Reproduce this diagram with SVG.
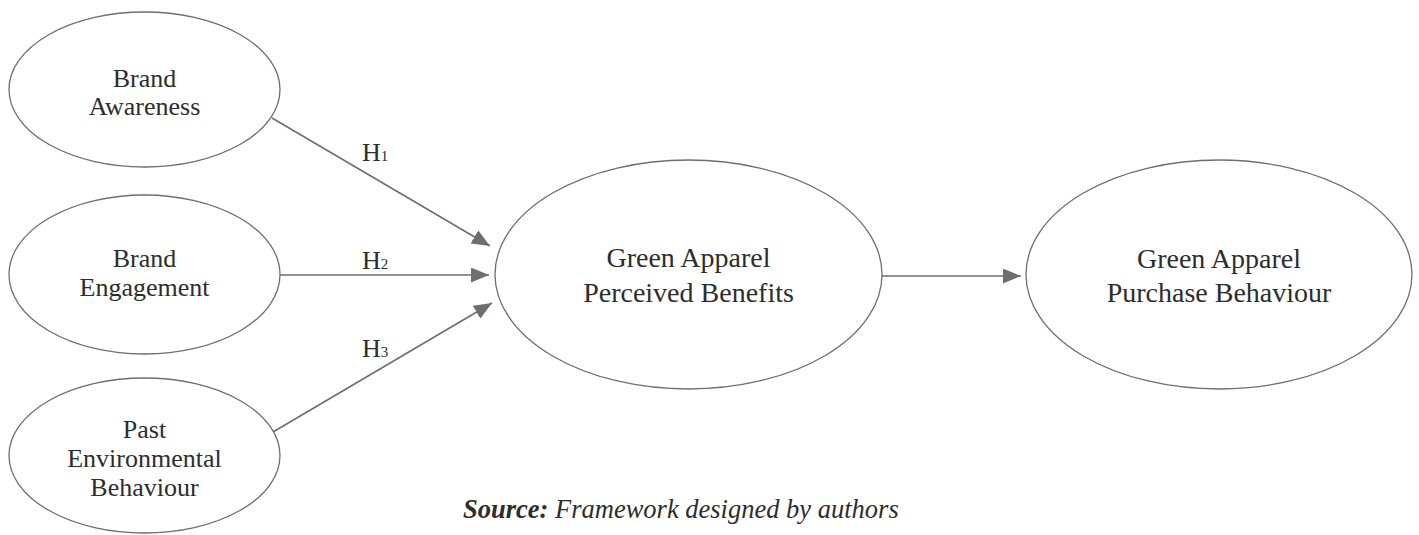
<svg xmlns="http://www.w3.org/2000/svg" width="1419" height="535" viewBox="0 0 1419 535">
<defs>
<style>
.node ellipse{fill:#fff;stroke:#6d6e71;stroke-width:1.3}
.lbl{font-family:"Liberation Serif","Times New Roman",serif;fill:#2d2d2d;text-anchor:middle}
.sm{font-size:26px}
.lg{font-size:28px}
.conn line{stroke:#6d6e71;stroke-width:1.6;fill:none}
.h{font-family:"Liberation Serif","Times New Roman",serif;fill:#2d2d2d;font-size:26px}
.sub{font-size:15px}
.src{font-family:"Liberation Serif","Times New Roman",serif;fill:#2d2d2d;font-size:26.5px;font-style:italic}
</style>
<marker id="arr" viewBox="0 0 18 15" refX="18" refY="7.5" markerWidth="18" markerHeight="15" markerUnits="userSpaceOnUse" orient="auto">
<path d="M0,0 L18,7.5 L0,15 Z" fill="#6d6e71"/>
</marker>
</defs>
<rect width="1419" height="535" fill="#fff"/>
<g id="connectors" class="conn">
<line x1="272" y1="118" x2="490" y2="246" marker-end="url(#arr)"/>
<line x1="280" y1="275" x2="489" y2="275" marker-end="url(#arr)"/>
<line x1="273" y1="432" x2="492" y2="303" marker-end="url(#arr)"/>
<line x1="882" y1="276" x2="1021" y2="276" marker-end="url(#arr)"/>
<text class="h" x="362" y="161">H<tspan class="sub">1</tspan></text>
<text class="h" x="362" y="269">H<tspan class="sub">2</tspan></text>
<text class="h" x="362" y="357">H<tspan class="sub">3</tspan></text>
</g>
<g id="brand-awareness" class="node">
<ellipse cx="144.5" cy="89.5" rx="135.5" ry="77.5"/>
<text class="lbl sm" x="144.5" y="87">Brand</text>
<text class="lbl sm" x="144.5" y="115">Awareness</text>
</g>
<g id="brand-engagement" class="node">
<ellipse cx="144.5" cy="274.5" rx="135.5" ry="79.5"/>
<text class="lbl sm" x="144.5" y="267">Brand</text>
<text class="lbl sm" x="144.5" y="296">Engagement</text>
</g>
<g id="past-env" class="node">
<ellipse cx="144.5" cy="455.5" rx="135.5" ry="77.5"/>
<text class="lbl sm" x="144.5" y="438">Past</text>
<text class="lbl sm" x="144.5" y="467">Environmental</text>
<text class="lbl sm" x="144.5" y="496">Behaviour</text>
</g>
<g id="perceived-benefits" class="node">
<ellipse cx="688.5" cy="274.5" rx="193.5" ry="114.5"/>
<text class="lbl lg" x="688.5" y="267">Green Apparel</text>
<text class="lbl lg" x="688.5" y="302">Perceived Benefits</text>
</g>
<g id="purchase-behaviour" class="node">
<ellipse cx="1219" cy="274.5" rx="193" ry="114.5"/>
<text class="lbl lg" x="1219" y="268">Green Apparel</text>
<text class="lbl lg" x="1219" y="302">Purchase Behaviour</text>
</g>
<text class="src" x="463" y="518"><tspan font-weight="bold">Source:</tspan> Framework designed by authors</text>
</svg>
